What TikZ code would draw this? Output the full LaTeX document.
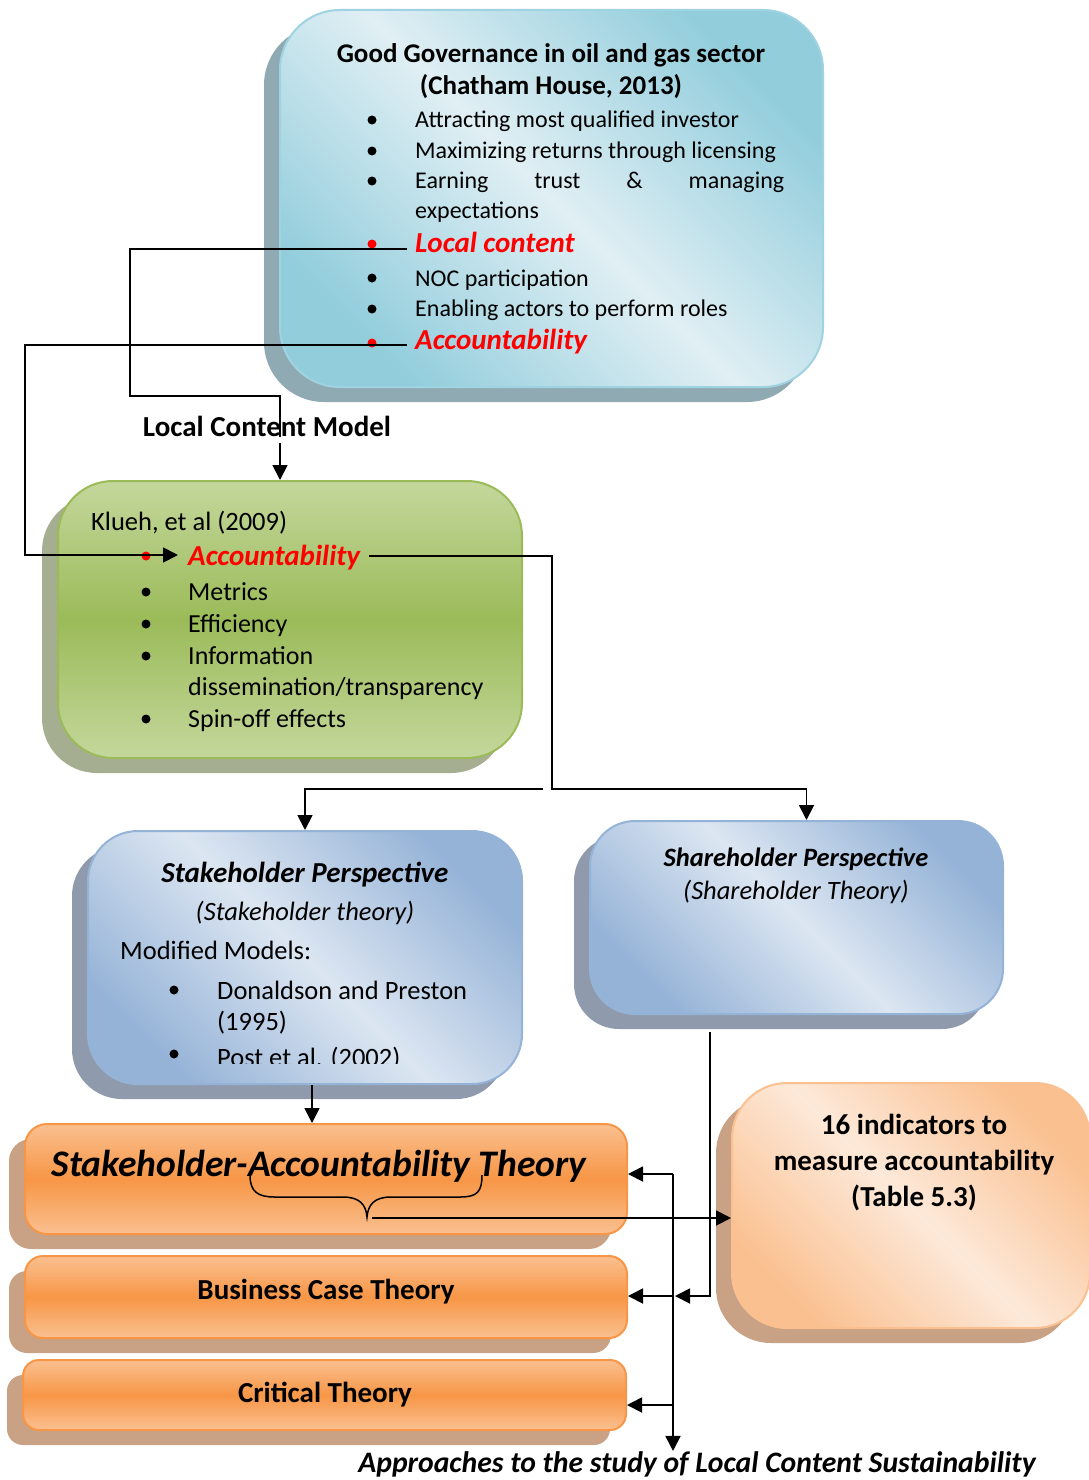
\documentclass[tikz,border=0pt]{standalone}
\usepackage{fontspec}
\setmainfont{Carlito}
\usetikzlibrary{arrows.meta,shadows,calc}
\definecolor{govdark}{RGB}{146,205,220}
\definecolor{govlight}{RGB}{224,239,244}
\definecolor{govborder}{RGB}{160,211,225}
\definecolor{govshadow}{RGB}{143,170,178}
\definecolor{grtop}{RGB}{196,215,156}
\definecolor{grmid}{RGB}{155,187,89}
\definecolor{grshadow}{RGB}{166,174,145}
\definecolor{bldark}{RGB}{149,179,215}
\definecolor{bllight}{RGB}{220,230,242}
\definecolor{blshadow}{RGB}{143,155,172}
\definecolor{ortop}{RGB}{250,192,144}
\definecolor{ormid}{RGB}{247,150,70}
\definecolor{orshadow}{RGB}{201,161,132}
\definecolor{orlight}{RGB}{253,233,217}
\definecolor{redtxt}{RGB}{255,0,0}
\begin{document}
\begin{tikzpicture}[x=1pt,y=-1pt,
  conn/.style={line width=1.8pt},
  arr/.style={conn,-{Triangle[length=15pt,width=15pt]}},
  box/.style={draw, line width=2pt, inner sep=0pt, rounded corners=#1},
  shad/.style={general shadow={fill=#1, shadow xshift=-16pt, shadow yshift=-15pt}},
  govtxt/.style={inner sep=0pt, anchor=base west, font=\fontsize{24}{29}\selectfont},
  redtx/.style={inner sep=0pt, anchor=base west, text=redtxt, font=\fontsize{29}{35}\selectfont\bfseries\itshape},
  ktxt/.style={inner sep=0pt, anchor=base west, font=\fontsize{26}{31}\selectfont},
  stxt/.style={inner sep=0pt, anchor=base west, font=\fontsize{26.5}{31}\selectfont},
  btxt/.style={inner sep=0pt, anchor=base, font=\fontsize{29}{35}\selectfont\bfseries},
]
\useasboundingbox (0,0) rectangle (1089,1480);

% ---------- boxes ----------
\node[box=60pt, minimum width=543pt, minimum height=377pt, draw=govborder, shad=govshadow,
      top color=govdark, bottom color=govdark, middle color=govlight, shading angle=-45]
      (gov) at (551.5,198.5) {};
\node[box=55pt, minimum width=464pt, minimum height=277pt, draw=grmid, shad=grshadow,
      top color=grtop, bottom color=grtop, middle color=grmid]
      (klueh) at (290,619.5) {};
\node[box=50pt, minimum width=434pt, minimum height=253pt, draw=bldark, shad=blshadow,
      top color=bldark, bottom color=bldark, middle color=bllight, shading angle=-45]
      (stake) at (305,957.5) {};
\node[box=45pt, minimum width=413pt, minimum height=193pt, draw=bldark, shad=blshadow,
      top color=bldark, bottom color=bldark, middle color=bllight, shading angle=-45]
      (share) at (796.5,917.5) {};
\node[box=22pt, minimum width=602pt, minimum height=110pt, draw=ormid, shad=orshadow,
      top color=ortop, bottom color=ortop, middle color=ormid]
      (sat) at (326,1179) {};
\node[box=18pt, minimum width=602pt, minimum height=82pt, draw=ormid, shad=orshadow,
      top color=ortop, bottom color=ortop, middle color=ormid]
      (bct) at (326,1297) {};
\node[box=16pt, minimum width=603pt, minimum height=70pt, draw=ormid, shad=orshadow,
      top color=ortop, bottom color=ortop, middle color=ormid]
      (ct) at (324.5,1395) {};
\node[box=55pt, minimum width=358pt, minimum height=245pt, draw=ortop, shad=orshadow,
      top color=ortop, bottom color=ortop, middle color=orlight, shading angle=-45]
      (ind) at (911,1205.5) {};

% ---------- top box text ----------
\node[btxt, font=\fontsize{27}{32}\selectfont\bfseries] (govh1) at (551,63) {Good Governance in oil and gas sector};
\node[btxt, font=\fontsize{27}{32}\selectfont\bfseries] (govh2) at (551,94) {(Chatham House, 2013)};
\node[govtxt] (g1) at (415,127) {Attracting most qualified investor};
\node[govtxt] (g2) at (415,158) {Maximizing returns through licensing};
\node[govtxt] (g3) at (415,188) {\makebox[369pt][s]{Earning trust \& managing}};
\node[govtxt] (g3b) at (415,218) {expectations};
\node[redtx] (lc) at (415,252) {Local content};
\node[govtxt] (g5) at (415,286) {NOC participation};
\node[govtxt] (g6) at (415,316) {Enabling actors to perform roles};
\node[redtx] (acc) at (415,349) {Accountability};
\foreach \yy in {120,151,181,278,309} \fill (372,\yy) circle (4.5pt);
\fill[redtxt] (372,244) circle (4.5pt);
\fill[redtxt] (372,343) circle (4.5pt);

% ---------- label ----------
\node[btxt] (lcm) at (267,436) {Local Content Model};

% ---------- green box text ----------
\node[ktxt, font=\fontsize{26.5}{31}\selectfont] (k0) at (91,530) {Klueh, et al (2009)};
\node[redtx] (kacc) at (188,565) {Accountability};
\node[ktxt] (k2) at (188,600) {Metrics};
\node[ktxt] (k3) at (188,632) {Efficiency};
\node[ktxt] (k4) at (188,664) {Information};
\node[ktxt] (k4b) at (188,695) {dissemination/transparency};
\node[ktxt] (k5) at (188,727) {Spin-off effects};
\fill[redtxt] (146,556) circle (4.5pt);
\foreach \yy in {592,624,656,719} \fill (146,\yy) circle (4.5pt);

% ---------- stakeholder box text ----------
\node[btxt, font=\fontsize{29}{35}\selectfont\bfseries\itshape] (s1) at (305,882) {Stakeholder Perspective};
\node[btxt, font=\fontsize{26.5}{31}\selectfont\itshape] (s2) at (305,920) {(Stakeholder theory)};
\node[stxt] (s3) at (120,959) {Modified Models:};
\node[stxt] (s4) at (217,999) {Donaldson and Preston};
\node[stxt] (s4b) at (217,1030) {(1995)};
\begin{scope}
  \clip (0,0) rectangle (1089,1063);
  \node[stxt] (s5) at (217,1066) {Post et al. (2002)};
  \fill (174,1054) circle (4.5pt);
\end{scope}
\fill (174,990) circle (4.5pt);

% ---------- shareholder box text ----------
\node[btxt, font=\fontsize{26.5}{31}\selectfont\bfseries\itshape] (h1) at (796,866) {Shareholder Perspective};
\node[btxt, font=\fontsize{26.5}{31}\selectfont\itshape] (h2) at (796,899) {(Shareholder Theory)};

% ---------- orange boxes text ----------
\node[btxt, font=\fontsize{37.5}{44}\selectfont\bfseries\itshape] (satt) at (319,1176) {Stakeholder-Accountability Theory};
\node[btxt] (bctt) at (326,1299) {Business Case Theory};
\node[btxt] (ctt) at (325,1402) {Critical Theory};

% ---------- indicators text ----------
\node[btxt] (i1) at (914,1134) {16 indicators to};
\node[btxt] (i2) at (914,1170) {measure accountability};
\node[btxt] (i3) at (914,1206) {(Table 5.3)};

% ---------- caption ----------
\node[btxt, font=\fontsize{29.7}{35}\selectfont\bfseries\itshape] (cap) at (697,1472) {Approaches to the study of Local Content Sustainability};

% ---------- connectors ----------
\coordinate (lcmIn) at (280,437);
\draw[conn] ([shift={(-8pt,3pt)}]lc.base west) -| (130,396) -| (lcmIn);
\draw[arr] (lcmIn |- 0,443) -- (lcmIn |- klueh.north);

\draw[arr] ([shift={(-8pt,4pt)}]acc.base west) -| (25,555) -- ([xshift=-10pt]kacc.base west |- 0,555);

\draw[arr] ([shift={(9pt,9pt)}]kacc.base east) -| (552,789) -| ([xshift=10pt]share.north);
\coordinate (sp) at (543,789);
\draw[arr] (sp) -| (stake.north);

\draw[arr] ([xshift=7pt]stake.south) -- ([xshift=7pt]stake.south |- sat.north);

% brace
\draw[line width=1.5pt] (250,1175) .. controls (250,1192) and (258,1197) .. (275,1197)
  -- (343,1197) .. controls (360,1197) and (366,1205) .. (367,1217)
  .. controls (368,1205) and (374,1197) .. (391,1197)
  -- (460,1197) .. controls (477,1197) and (482,1192) .. (482,1175);
\coordinate (bt) at (372,1218);
\draw[arr] (bt) -- (bt -| ind.west);

% bus
\coordinate (b1) at (673,1174);
\coordinate (b2) at (673,1296);
\coordinate (b3) at (673,1405);
\draw[arr] (b1) -- (b1 |- cap.north);
\draw[arr] (b1) -- (b1 -| sat.east);
\draw[arr] (b2) -- (b2 -| bct.east);
\draw[arr] (b3) -- (b3 -| ct.east);
\coordinate (shd) at (710,1032);
\draw[arr] (shd) |- ([xshift=2pt]b2);
\end{tikzpicture}
\end{document}
